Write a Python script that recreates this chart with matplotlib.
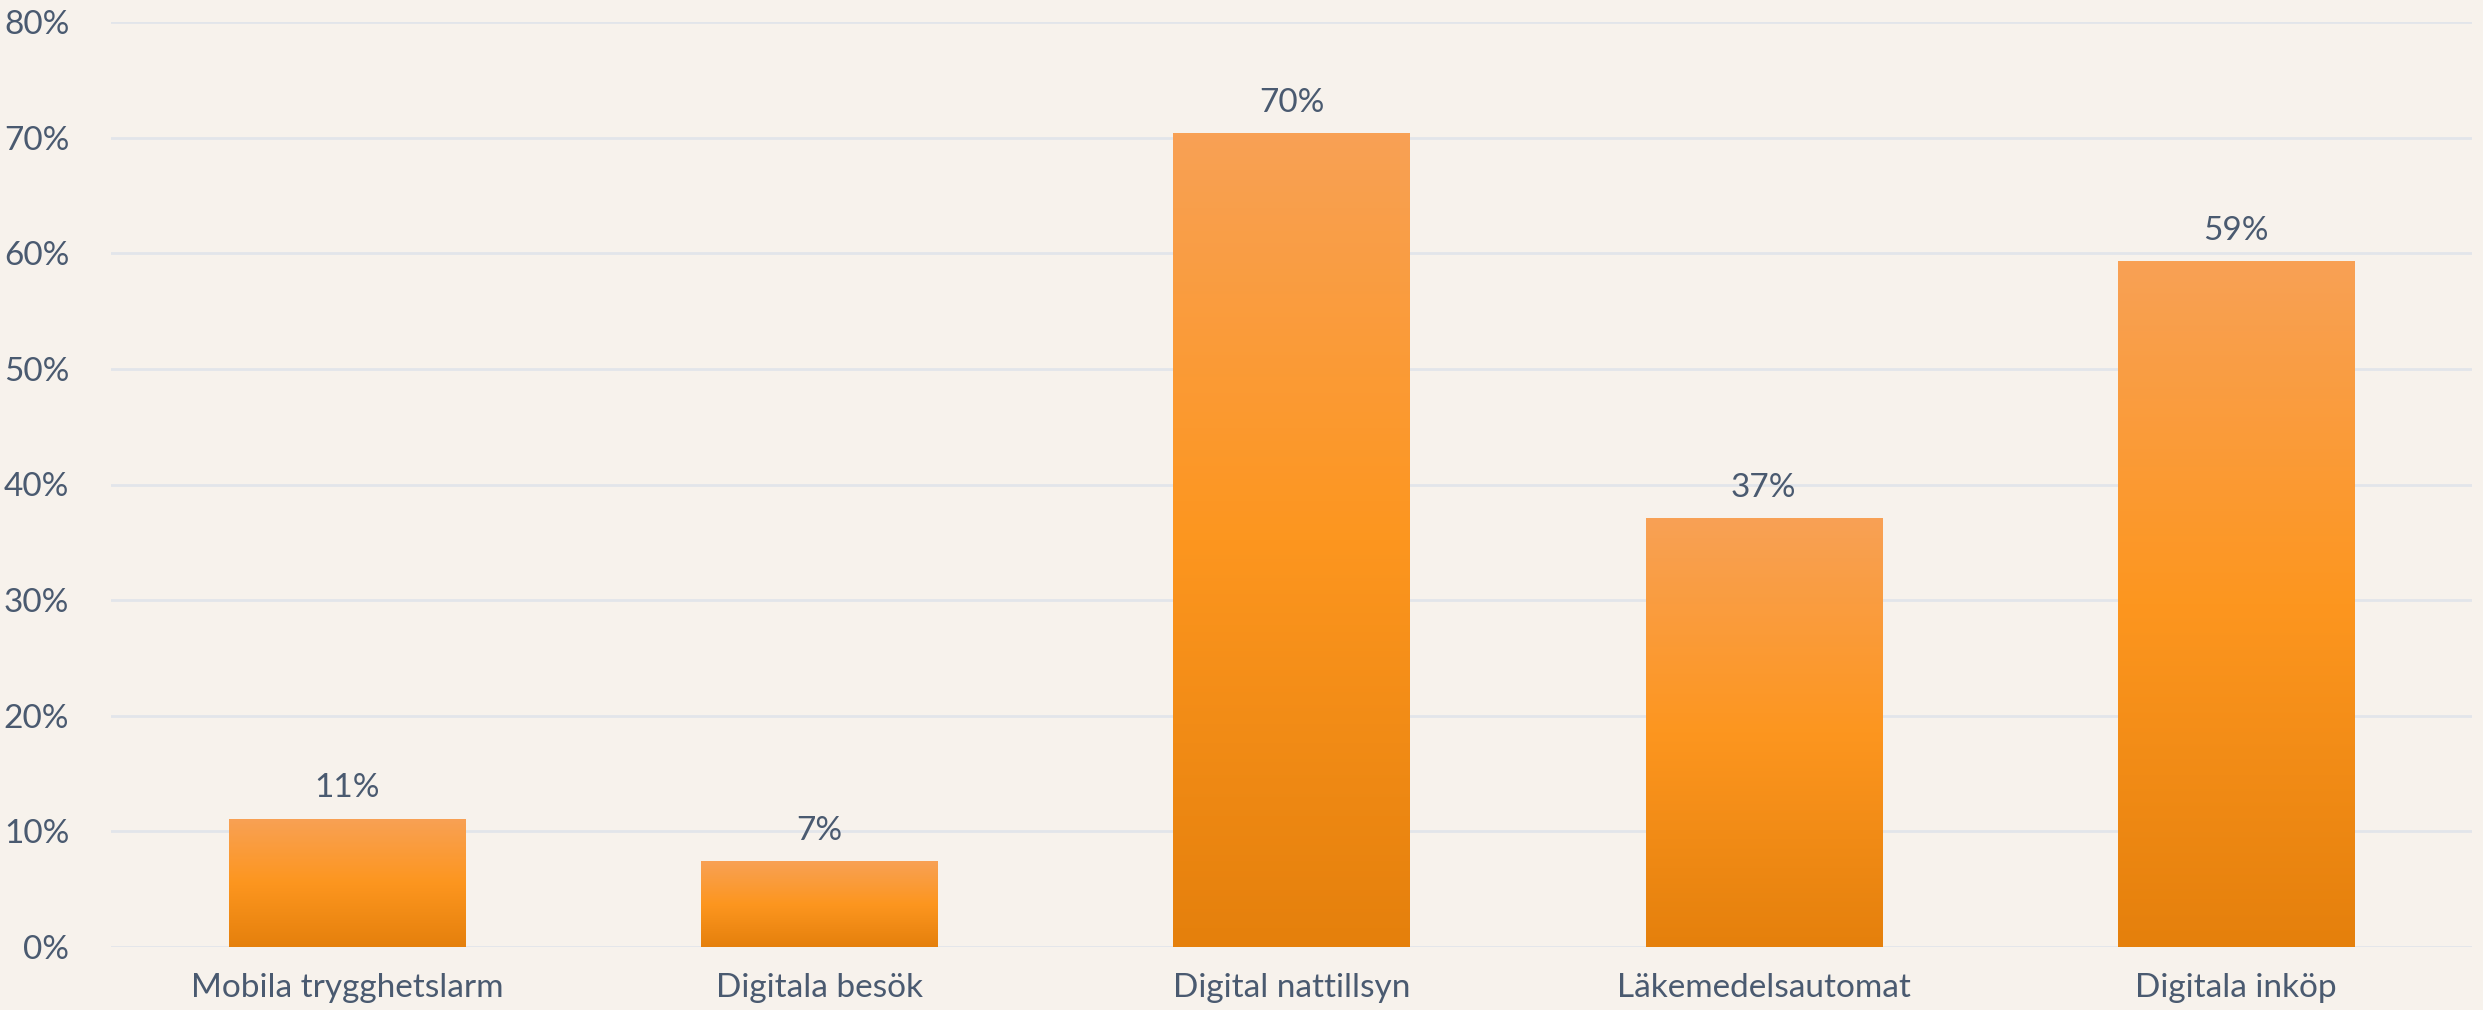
import numpy as np
import matplotlib
matplotlib.use("Agg")
import matplotlib.pyplot as plt
from matplotlib.colors import LinearSegmentedColormap
from matplotlib.ticker import FuncFormatter

categories = ["Mobila trygghetslarm", "Digitala besök", "Digital nattillsyn",
              "Läkemedelsautomat", "Digitala inköp"]
values = [11.1, 7.4, 70.4, 37.1, 59.3]
yticks = [0, 10, 20, 30, 40, 50, 60, 70, 80]

BG = "#F7F2EC"
TEXT = "#4A5A70"
GRID = "#E2E5EA"

plt.rcParams["font.family"] = ["Lato", "DejaVu Sans"]

fig = plt.figure(figsize=(24.83, 10.10), dpi=100, facecolor=BG)
ax = fig.add_axes([111 / 2483, 1 - 947 / 1010, (2472 - 111) / 2483, (947 - 22) / 1010])
ax.set_facecolor(BG)

cmap = LinearSegmentedColormap.from_list(
    "bar_grad", [(0.0, "#E5800C"), (0.5, "#FD961F"), (1.0, "#F8A155")])
grad = np.linspace(0, 1, 256).reshape(-1, 1)

x = np.arange(len(categories))
bars = ax.bar(x, values, width=0.5, color="#FD961F", zorder=3)
for b in bars:
    x0, w, h = b.get_x(), b.get_width(), b.get_height()
    im = ax.imshow(grad, cmap=cmap, origin="lower", aspect="auto",
                   extent=(x0, x0 + w, 0, h), zorder=4)
    im.set_clip_path(b)

for xi, v in zip(x, values):
    ax.annotate(f"{round(v)}%", (xi, v), xytext=(0, 11), textcoords="offset points",
                ha="center", va="bottom", fontsize=24, color=TEXT, zorder=5)

ax.set_xlim(-0.5, len(categories) - 0.5)
ax.set_ylim(0, 80)
ax.set_yticks(yticks)
ax.yaxis.set_major_formatter(FuncFormatter(lambda v, _: f"{v:.0f}%"))
ax.set_xticks(x)
ax.set_xticklabels(categories)
ax.tick_params(axis="both", length=0, labelsize=24, labelcolor=TEXT)
ax.tick_params(axis="y", pad=30)
ax.tick_params(axis="x", pad=19)
ax.grid(axis="y", color=GRID, linewidth=2, zorder=0)
ax.set_axisbelow(True)
for s in ax.spines.values():
    s.set_visible(False)

fig.savefig("out.png", dpi=100, facecolor=BG)
